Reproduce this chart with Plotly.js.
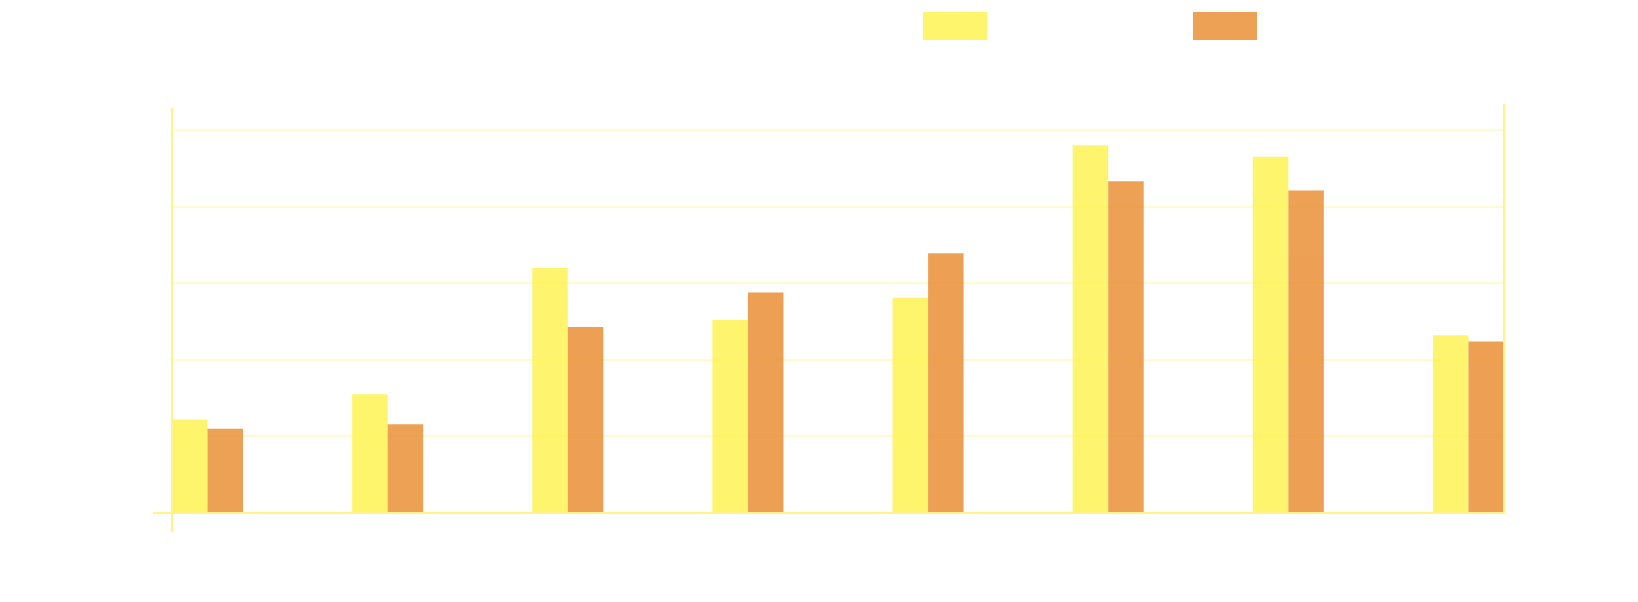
<!DOCTYPE html>
<html>
<head>
<meta charset="utf-8">
<script src="https://cdn.plot.ly/plotly-3.0.1.min.js"></script>
<style>html,body{margin:0;padding:0;background:#fff;}#chart{width:1638px;height:602px;}</style>
</head>
<body>
<div id="chart"></div>
<script>
// Data (no labels are visible in the reference)
var categories = ['1', '2', '3', '4', '5', '6', '7', '8'];
var seriesA = [12.2, 15.5, 32.0, 25.2, 28.1, 48.0, 46.5, 23.2];
var seriesB = [11.0, 11.6, 24.3, 28.8, 33.9, 43.3, 42.1, 22.4];

var colorA = 'rgb(255,243,84)';
var colorB = 'rgb(234,144,55)';
var axisColor = '#FFF38A';

var traces = [
  {type: 'bar', x: categories, y: seriesA, marker: {color: colorA}, opacity: 0.85, showlegend: false, hoverinfo: 'skip'},
  {type: 'bar', x: categories, y: seriesB, marker: {color: colorB}, opacity: 0.85, showlegend: false, hoverinfo: 'skip'}
];

var W = 1332, H = 409;
function px(x) { return (x - 172) / W; }
function py(y) { return (513 - y) / H; }

var layout = {
  width: 1638, height: 602,
  margin: {l: 172, r: 134, t: 104, b: 89, pad: 0},
  paper_bgcolor: '#ffffff', plot_bgcolor: '#ffffff',
  barmode: 'group', bargap: 0.6056, bargroupgap: 0,
  showlegend: false,
  xaxis: {
    type: 'category', range: [-0.1972, 7.1972],
    showline: false,
    showgrid: false, zeroline: false,
    showticklabels: false
  },
  yaxis: {
    range: [0, 53.4], dtick: 10, tick0: 0,
    showline: false,
    showgrid: true, gridcolor: '#FFFAD0', gridwidth: 2,
    zeroline: false,
    showticklabels: false
  },
  shapes: [
    // axis-line decorations (x-axis with left overhang, left axis with bottom overhang, right border line)
    {type: 'line', xref: 'paper', yref: 'paper', x0: px(153), x1: px(1504), y0: py(513), y1: py(513), line: {color: axisColor, width: 2}, layer: 'above'},
    {type: 'line', xref: 'paper', yref: 'paper', x0: px(172), x1: px(172), y0: py(108), y1: py(532), line: {color: axisColor, width: 2}, layer: 'above'},
    {type: 'line', xref: 'paper', yref: 'paper', x0: px(1504), x1: px(1504), y0: py(104), y1: py(514), line: {color: axisColor, width: 2}, layer: 'above'},
    // legend swatches
    {type: 'rect', xref: 'paper', yref: 'paper', x0: px(923), x1: px(987), y0: py(40), y1: py(12), fillcolor: colorA, opacity: 0.85, line: {width: 0}},
    {type: 'rect', xref: 'paper', yref: 'paper', x0: px(1193), x1: px(1257), y0: py(40), y1: py(12), fillcolor: colorB, opacity: 0.85, line: {width: 0}}
  ]
};

Plotly.newPlot('chart', traces, layout, {displayModeBar: false, staticPlot: true});
</script>
</body>
</html>
